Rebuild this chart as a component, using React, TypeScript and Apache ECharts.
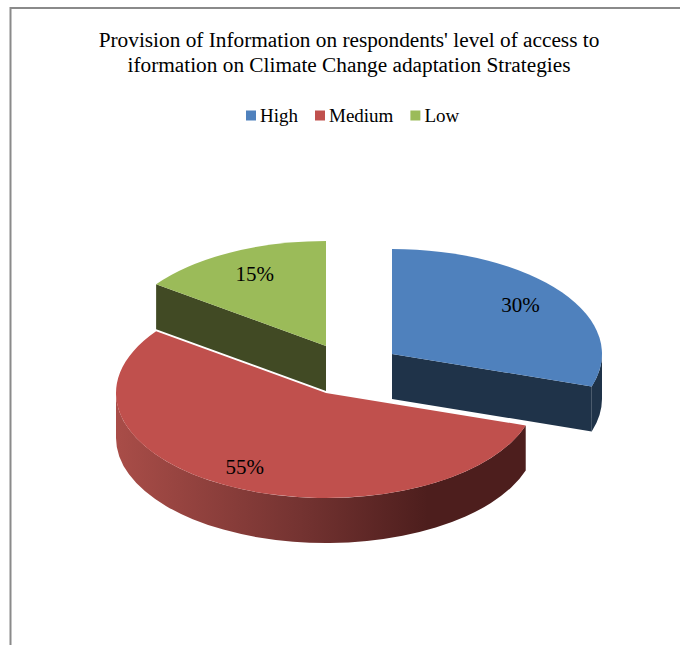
import React, { useEffect, useRef } from "react";
import * as echarts from "echarts";

const categories = ["High", "Medium", "Low"];
const shares = [30, 55, 15];
const titleLines = [
  "Provision of Information on respondents' level of access to",
  "iformation on Climate Change adaptation Strategies",
];

const topColors = ["#4f81bd", "#c0504d", "#9bbb59"];
const cutColors = ["#1f3349", "#4d1e1d", "#414a24"];
const sliceCentres = [
  [392, 354],
  [326, 393],
  [326, 346],
];
const labelNudges = [
  [-4, -1],
  [-7, 1],
  [3, 1],
];
const RX = 210;
const RY = 105;
const DEPTH = 45;
const LABEL_RADIUS = 0.78;
const SERIF = "'Liberation Serif', serif";

const rad = (deg: number) => (deg * Math.PI) / 180;
const total = shares.reduce((a, b) => a + b, 0);

// Start and end of a slice, in degrees clockwise from twelve o'clock.
function sliceAngles(index: number) {
  const before = shares.slice(0, index).reduce((a, b) => a + b, 0);
  return [(before / total) * 360, ((before + shares[index]) / total) * 360];
}

const redRim = () =>
  new echarts.graphic.LinearGradient(
    116,
    0,
    526,
    0,
    [
      { offset: 0, color: "#a94d48" },
      { offset: 0.45, color: "#743331" },
      { offset: 0.76, color: "#4d1e1d" },
      { offset: 1, color: "#4d1e1d" },
    ],
    true,
  );

function renderSlice(index: number) {
  const [cx, cy] = sliceCentres[index];
  const [a, b] = sliceAngles(index);
  const pt = (deg: number, drop = 0) => [
    cx + RX * Math.sin(rad(deg)),
    cy - RY * Math.cos(rad(deg)) + drop,
  ];
  const fmt = (p: number[]) => `${p[0].toFixed(2)} ${p[1].toFixed(2)}`;
  const arc = (from: number, to: number, drop: number, sweep: number) =>
    `A ${RX} ${RY} 0 ${Math.abs(to - from) > 180 ? 1 : 0} ${sweep} ${fmt(pt(to, drop))}`;
  const cutFace = (deg: number) =>
    `M ${cx} ${cy} L ${fmt(pt(deg))} L ${fmt(pt(deg, DEPTH))} L ${cx} ${cy + DEPTH} Z`;
  const shape = (pathData: string, fill: unknown) => ({
    type: "path",
    shape: { pathData },
    style: { fill },
    silent: true,
  });

  const children: unknown[] = [];
  if (Math.sin(rad(b)) > 1e-6) children.push(shape(cutFace(b), cutColors[index]));
  if (Math.sin(rad(a)) < -1e-6) children.push(shape(cutFace(a), cutColors[index]));

  // Only the part of the outer wall on the near half of the ellipse shows.
  const rimFrom = Math.max(a, 90);
  const rimTo = Math.min(b, 270);
  if (rimTo > rimFrom) {
    children.push(
      shape(
        `M ${fmt(pt(rimFrom))} ${arc(rimFrom, rimTo, 0, 1)} L ${fmt(pt(rimTo, DEPTH))} ${arc(rimTo, rimFrom, DEPTH, 0)} Z`,
        index === 1 ? redRim() : cutColors[index],
      ),
    );
  }

  children.push(
    shape(`M ${cx} ${cy} L ${fmt(pt(a))} ${arc(a, b, 0, 1)} Z`, topColors[index]),
  );

  const mid = (a + b) / 2;
  children.push({
    type: "text",
    silent: true,
    style: {
      text: `${shares[index]}%`,
      x: cx + LABEL_RADIUS * RX * Math.sin(rad(mid)) + labelNudges[index][0],
      y: cy - LABEL_RADIUS * RY * Math.cos(rad(mid)) + labelNudges[index][1],
      fill: "#000",
      font: `21px ${SERIF}`,
      align: "center",
      verticalAlign: "middle",
    },
  });
  return { type: "group", children };
}

export default function App() {
  const ref = useRef<HTMLDivElement>(null);

  useEffect(() => {
    document.body.style.margin = "0";
    const chart = echarts.init(ref.current!, null, { renderer: "svg" });
    chart.setOption({
      animation: false,
      backgroundColor: "#fff",
      title: {
        text: titleLines.join("\n"),
        left: 344,
        top: 22,
        textAlign: "center",
        textStyle: {
          fontFamily: SERIF,
          fontSize: 21.3,
          fontWeight: "normal",
          color: "#000",
          lineHeight: 25,
        },
      },
      legend: {
        data: categories,
        left: 241,
        top: 101,
        icon: "rect",
        itemWidth: 10,
        itemHeight: 10,
        itemGap: 17,
        selectedMode: false,
        textStyle: { fontFamily: SERIF, fontSize: 19, color: "#000", padding: [0, 0, 0, -1] },
      },
      graphic: [
        {
          type: "polyline",
          silent: true,
          shape: {
            points: [
              [10.5, 645],
              [10.5, 8],
              [680, 8],
            ],
          },
          style: { stroke: "#8a8a8a", lineWidth: 2, fill: "none" },
        },
      ],
      series: categories.map((name, index) => ({
        type: "custom",
        name,
        coordinateSystem: "none",
        itemStyle: { color: topColors[index] },
        data: [shares[index]],
        renderItem: () => renderSlice(index),
      })),
    });
    return () => chart.dispose();
  }, []);

  return (
    <div
      ref={ref}
      style={{ position: "fixed", left: 0, top: 0, width: 680, height: 645 }}
    />
  );
}
